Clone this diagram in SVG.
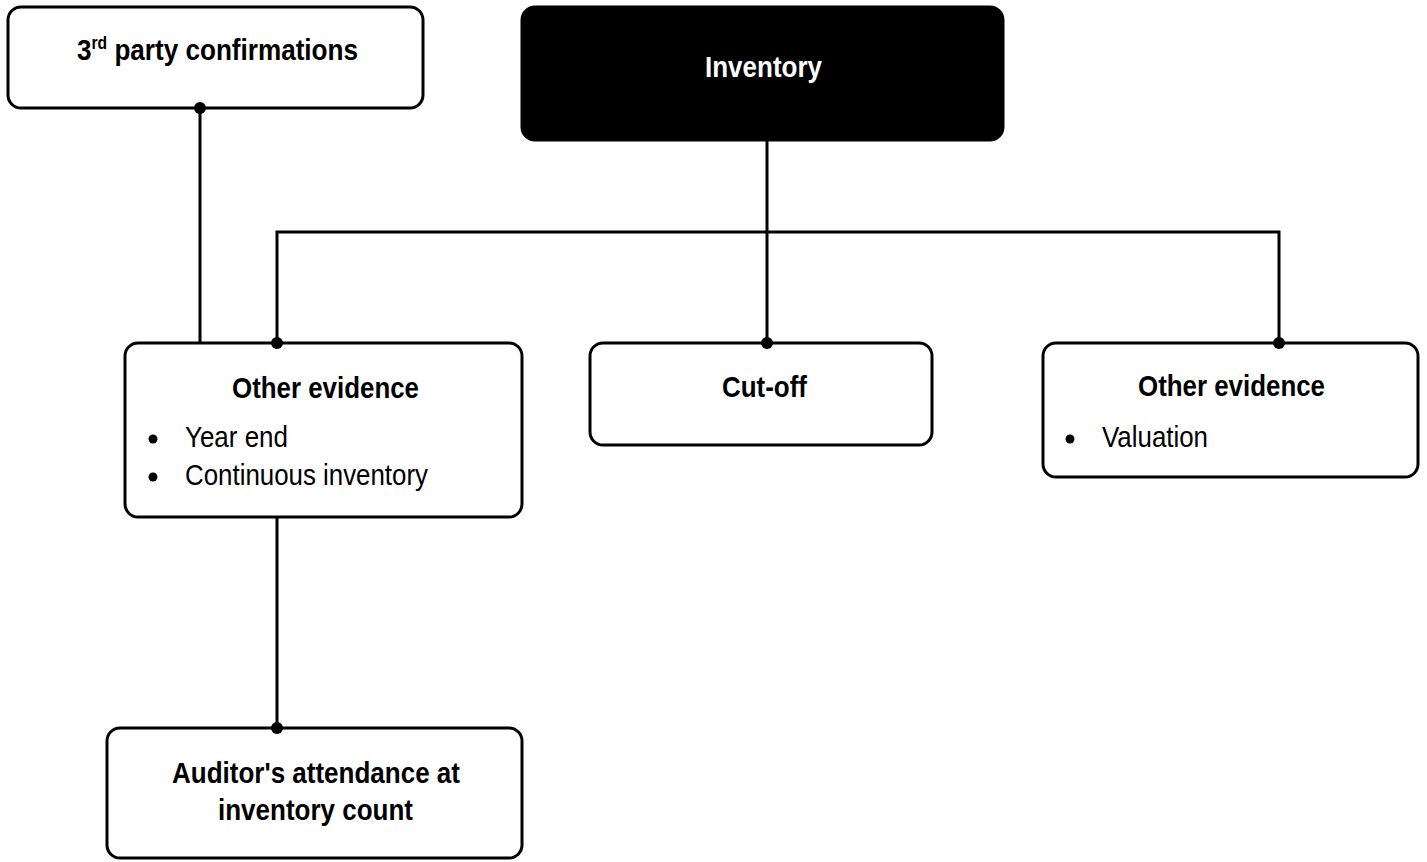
<svg xmlns="http://www.w3.org/2000/svg" width="1427" height="862" viewBox="0 0 1427 862">
<style>
.box{fill:#fff;stroke:#000;stroke-width:3}
.dark{fill:#000;stroke:#000;stroke-width:3}
.ln{fill:none;stroke:#000;stroke-width:3}
.dot{fill:#000}
.b{font-family:"Liberation Sans",Arial,sans-serif;font-weight:bold;font-size:30px;fill:#000}
.r{font-family:"Liberation Sans",Arial,sans-serif;font-size:29px;fill:#000}
.w{fill:#fff}
</style>
<rect width="1427" height="862" fill="#fff"/>
<g id="third-party">
<rect class="box" x="8" y="7" width="415" height="101" rx="13"/>
<text class="b" x="77" y="60" textLength="281" lengthAdjust="spacingAndGlyphs">3<tspan font-size="18" dy="-11">rd</tspan><tspan dy="11"> party confirmations</tspan></text>
</g>
<g id="inventory">
<rect class="dark" x="522" y="7" width="481" height="133" rx="13"/>
<text class="b w" x="705" y="77" textLength="117" lengthAdjust="spacingAndGlyphs">Inventory</text>
</g>
<g id="other-evidence-left">
<rect class="box" x="125" y="343" width="397" height="174" rx="13"/>
<text class="b" x="232" y="398" textLength="187" lengthAdjust="spacingAndGlyphs">Other evidence</text>
<circle class="dot" cx="153" cy="439" r="4.5"/>
<text class="r" x="185" y="447" textLength="103" lengthAdjust="spacingAndGlyphs">Year end</text>
<circle class="dot" cx="153" cy="477" r="4.5"/>
<text class="r" x="185" y="485" textLength="243" lengthAdjust="spacingAndGlyphs">Continuous inventory</text>
</g>
<g id="cut-off">
<rect class="box" x="590" y="343" width="342" height="102" rx="13"/>
<text class="b" x="722" y="397" textLength="85" lengthAdjust="spacingAndGlyphs">Cut-off</text>
</g>
<g id="other-evidence-right">
<rect class="box" x="1043" y="343" width="375" height="134" rx="13"/>
<text class="b" x="1138" y="396" textLength="187" lengthAdjust="spacingAndGlyphs">Other evidence</text>
<circle class="dot" cx="1070" cy="439" r="4.5"/>
<text class="r" x="1102" y="447" textLength="106" lengthAdjust="spacingAndGlyphs">Valuation</text>
</g>
<g id="auditor-attendance">
<rect class="box" x="107" y="728" width="415" height="130" rx="13"/>
<text class="b" x="172" y="783" textLength="288" lengthAdjust="spacingAndGlyphs">Auditor's attendance at</text>
<text class="b" x="218" y="820" textLength="195" lengthAdjust="spacingAndGlyphs">inventory count</text>
</g>
<g id="connectors">
<line class="ln" x1="200" y1="108" x2="200" y2="343"/>
<line class="ln" x1="767" y1="140" x2="767" y2="343"/>
<polyline class="ln" points="277,343 277,232 1279,232 1279,343"/>
<line class="ln" x1="277" y1="517" x2="277" y2="728"/>
<circle class="dot" cx="200" cy="108" r="6"/>
<circle class="dot" cx="277" cy="343" r="6"/>
<circle class="dot" cx="767" cy="343" r="6"/>
<circle class="dot" cx="1279" cy="343" r="6"/>
<circle class="dot" cx="277" cy="728" r="6"/>
</g>
</svg>
